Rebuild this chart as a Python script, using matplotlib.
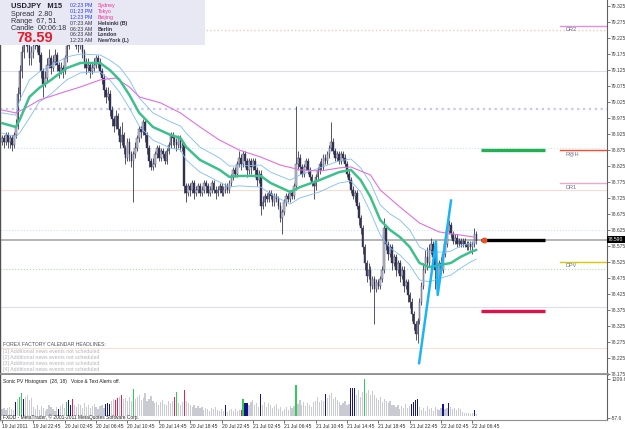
import matplotlib
matplotlib.use("Agg")
import matplotlib.pyplot as plt
import matplotlib.transforms as mtransforms
from matplotlib.patches import Rectangle

W, H = 625, 429
plt.rcParams['font.family'] = ['Liberation Sans', 'DejaVu Sans']
NARROW = ['Liberation Sans Narrow', 'Liberation Sans', 'DejaVu Sans']

# ---- candles (M15, bar 0 = 19 Jul 18:45) ----
first_open = 78.90
closes = [
    78.91, 78.90, 78.92, 78.90, 78.91, 78.89, 78.92, 78.95, 79.05, 79.12,
    79.18, 79.22, 79.24, 79.20, 79.16, 79.18, 79.20, 79.22, 79.20, 79.17,
    79.12, 79.08, 79.10, 79.14, 79.16, 79.13, 79.15, 79.17, 79.14, 79.12,
    79.13, 79.12, 79.16, 79.20, 79.24, 79.25, 79.23, 79.22, 79.21, 79.20,
    79.21, 79.18, 79.15, 79.13, 79.14, 79.12, 79.13, 79.14, 79.16, 79.15,
    79.12, 79.10, 79.06, 79.04, 79.05, 79.00, 78.97, 78.95, 78.98, 78.94,
    78.90, 78.92, 78.88, 78.85, 78.90, 78.86, 78.84, 78.86, 78.88, 78.91,
    78.94, 78.93, 78.96, 78.92, 78.88, 78.84, 78.82, 78.83, 78.86, 78.88,
    78.85, 78.87, 78.86, 78.84, 78.87, 78.89, 78.92, 78.91, 78.90, 78.89,
    78.91, 78.88, 78.89, 78.76, 78.74, 78.76, 78.75, 78.77, 78.74, 78.75,
    78.76, 78.74, 78.75, 78.77, 78.76, 78.74, 78.75, 78.77, 78.75, 78.74,
    78.75, 78.76, 78.74, 78.75, 78.76, 78.75, 78.77, 78.79, 78.81, 78.80,
    78.83, 78.85, 78.83, 78.86, 78.84, 78.81, 78.84, 78.82, 78.84, 78.81,
    78.78, 78.80, 78.70, 78.71, 78.73, 78.72, 78.74, 78.73, 78.71, 78.73,
    78.72, 78.70, 78.66, 78.68, 78.71, 78.73, 78.72, 78.74, 78.73, 78.76,
    78.83, 78.85, 78.82, 78.80, 78.82, 78.84, 78.81, 78.79, 78.77, 78.76,
    78.79, 78.81, 78.83, 78.82, 78.85, 78.84, 78.86, 78.88, 78.90, 78.87,
    78.85, 78.86, 78.84, 78.86, 78.85, 78.83, 78.80, 78.78, 78.75, 78.73,
    78.74, 78.70, 78.66, 78.63, 78.57, 78.52, 78.48, 78.50, 78.45, 78.47,
    78.44, 78.46, 78.45, 78.47, 78.50, 78.63, 78.58, 78.55, 78.57, 78.52,
    78.54, 78.50, 78.52, 78.48, 78.50, 78.45, 78.46, 78.42, 78.40, 78.36,
    78.33, 78.30, 78.34, 78.40, 78.45, 78.50, 78.54, 78.52, 78.56, 78.58,
    78.54, 78.50, 78.47, 78.52, 78.50, 78.55, 78.58, 78.62, 78.64, 78.61,
    78.59, 78.60, 78.58, 78.59, 78.58, 78.59, 78.58, 78.57, 78.58, 78.57,
    78.58, 78.61, 78.59]
highs = [
    78.92, 78.92, 78.93, 78.93, 78.92, 78.92, 78.93, 78.97, 79.07, 79.14,
    79.20, 79.24, 79.27, 79.26, 79.22, 79.20, 79.22, 79.25, 79.23, 79.21,
    79.18, 79.13, 79.12, 79.16, 79.19, 79.17, 79.17, 79.19, 79.18, 79.15,
    79.15, 79.14, 79.17, 79.22, 79.26, 79.28, 79.26, 79.25, 79.23, 79.22,
    79.23, 79.22, 79.19, 79.16, 79.16, 79.15, 79.15, 79.16, 79.17, 79.17,
    79.16, 79.13, 79.11, 79.07, 79.07, 79.06, 79.01, 78.98, 79.00, 78.99,
    78.95, 78.96, 78.93, 78.89, 78.91, 78.91, 78.87, 78.87, 78.90, 78.92,
    78.95, 78.95, 78.97, 78.97, 78.93, 78.89, 78.85, 78.85, 78.87, 78.89,
    78.89, 78.88, 78.88, 78.87, 78.88, 78.90, 78.93, 78.93, 78.92, 78.91,
    78.92, 78.92, 78.90, 78.90, 78.77, 78.77, 78.77, 78.78, 78.78, 78.76,
    78.77, 78.77, 78.76, 78.78, 78.78, 78.77, 78.76, 78.78, 78.78, 78.76,
    78.76, 78.77, 78.77, 78.76, 78.77, 78.77, 78.78, 78.80, 78.82, 78.82,
    78.84, 78.87, 78.86, 78.87, 78.87, 78.85, 78.85, 78.85, 78.85, 78.85,
    78.82, 78.81, 78.81, 78.73, 78.74, 78.74, 78.75, 78.75, 78.74, 78.74,
    78.74, 78.73, 78.71, 78.69, 78.72, 78.74, 78.74, 78.75, 78.75, 78.77,
    79.01, 78.87, 78.86, 78.83, 78.83, 78.85, 78.85, 78.82, 78.80, 78.78,
    78.80, 78.82, 78.84, 78.85, 78.86, 78.86, 78.87, 78.89, 78.96, 78.91,
    78.88, 78.87, 78.87, 78.87, 78.87, 78.86, 78.84, 78.81, 78.79, 78.76,
    78.75, 78.75, 78.71, 78.67, 78.64, 78.58, 78.53, 78.52, 78.51, 78.48,
    78.48, 78.47, 78.47, 78.48, 78.51, 78.66, 78.64, 78.59, 78.58, 78.58,
    78.55, 78.55, 78.53, 78.53, 78.51, 78.51, 78.47, 78.47, 78.43, 78.41,
    78.37, 78.34, 78.35, 78.41, 78.46, 78.52, 78.56, 78.57, 78.58, 78.60,
    78.59, 78.55, 78.51, 78.53, 78.54, 78.56, 78.60, 78.64, 78.655, 78.65,
    78.62, 78.61, 78.61, 78.60, 78.60, 78.60, 78.60, 78.59, 78.59, 78.59,
    78.59, 78.63, 78.62]
lows = [
    78.89, 78.88, 78.89, 78.88, 78.88, 78.87, 78.88, 78.91, 78.94, 79.03,
    79.10, 79.16, 79.20, 79.18, 79.14, 79.14, 79.16, 79.19, 79.18, 79.15,
    79.10, 79.04, 79.07, 79.09, 79.13, 79.11, 79.12, 79.14, 79.12, 79.10,
    79.11, 79.10, 79.11, 79.15, 79.19, 79.22, 79.21, 79.20, 79.19, 79.18,
    79.19, 79.16, 79.13, 79.11, 79.12, 79.10, 79.11, 79.12, 79.13, 79.13,
    79.11, 79.08, 79.04, 79.02, 79.03, 78.98, 78.95, 78.93, 78.94, 78.92,
    78.88, 78.89, 78.86, 78.83, 78.84, 78.84, 78.82, 78.71, 78.85, 78.87,
    78.90, 78.91, 78.92, 78.90, 78.86, 78.82, 78.81, 78.81, 78.82, 78.85,
    78.84, 78.84, 78.85, 78.83, 78.83, 78.86, 78.88, 78.89, 78.88, 78.87,
    78.88, 78.87, 78.87, 78.74, 78.71, 78.73, 78.73, 78.74, 78.72, 78.73,
    78.74, 78.73, 78.73, 78.74, 78.74, 78.73, 78.73, 78.74, 78.74, 78.72,
    78.73, 78.74, 78.73, 78.73, 78.74, 78.74, 78.74, 78.76, 78.78, 78.79,
    78.79, 78.82, 78.81, 78.82, 78.82, 78.79, 78.80, 78.80, 78.81, 78.79,
    78.76, 78.77, 78.67, 78.69, 78.70, 78.71, 78.71, 78.72, 78.70, 78.70,
    78.71, 78.69, 78.65, 78.61, 78.67, 78.70, 78.71, 78.71, 78.72, 78.72,
    78.75, 78.81, 78.80, 78.79, 78.79, 78.81, 78.80, 78.78, 78.76, 78.72,
    78.75, 78.78, 78.80, 78.81, 78.81, 78.83, 78.83, 78.85, 78.87, 78.86,
    78.84, 78.84, 78.83, 78.83, 78.84, 78.82, 78.79, 78.77, 78.74, 78.72,
    78.71, 78.69, 78.64, 78.61, 78.55, 78.50, 78.46, 78.47, 78.43, 78.44,
    78.33, 78.43, 78.44, 78.44, 78.46, 78.49, 78.56, 78.53, 78.54, 78.50,
    78.51, 78.48, 78.49, 78.46, 78.47, 78.43, 78.44, 78.40, 78.38, 78.34,
    78.31, 78.28, 78.27, 78.33, 78.39, 78.44, 78.49, 78.50, 78.51, 78.55,
    78.52, 78.44, 78.45, 78.46, 78.49, 78.49, 78.54, 78.57, 78.61, 78.60,
    78.58, 78.58, 78.57, 78.57, 78.57, 78.57, 78.57, 78.56, 78.56, 78.56,
    78.55, 78.57, 78.58]

# ---- moving averages / envelope ----
ma_bar = [0, 7, 9, 14, 19, 25, 33, 40, 50, 55, 60, 65, 70, 77, 86, 91, 94, 101,
          111, 116, 121, 132, 137, 147, 152, 162, 172, 178, 183, 188, 193, 198,
          203, 208, 213, 218, 224, 229, 234, 239, 242]
ma_fast = [78.958, 78.946, 78.968, 79.040, 79.068, 79.093, 79.130, 79.146, 79.146,
           79.124, 79.093, 79.046, 78.990, 78.946, 78.921, 78.912, 78.883, 78.843,
           78.812, 78.790, 78.793, 78.793, 78.771, 78.743, 78.758, 78.780, 78.805,
           78.812, 78.780, 78.727, 78.655, 78.624, 78.602, 78.571, 78.521, 78.508,
           78.515, 78.521, 78.540, 78.555, 78.562]
band_up = [78.990, 78.983, 79.030, 79.093, 79.118, 79.137, 79.165, 79.174, 79.171,
           79.155, 79.133, 79.093, 79.037, 78.990, 78.962, 78.949, 78.927, 78.883,
           78.849, 78.824, 78.824, 78.827, 78.805, 78.780, 78.796, 78.818, 78.840,
           78.846, 78.818, 78.771, 78.702, 78.674, 78.655, 78.624, 78.571, 78.555,
           78.555, 78.558, 78.574, 78.583, 78.587]
band_dn = [78.927, 78.915, 78.927, 78.974, 79.024, 79.049, 79.093, 79.115, 79.118,
           79.093, 79.055, 79.005, 78.949, 78.905, 78.880, 78.874, 78.843, 78.805,
           78.774, 78.758, 78.762, 78.758, 78.737, 78.705, 78.724, 78.743, 78.771,
           78.777, 78.743, 78.680, 78.608, 78.568, 78.546, 78.515, 78.468, 78.462,
           78.474, 78.483, 78.505, 78.524, 78.533]
slow_bar = [0, 7, 12, 19, 30, 40, 50, 58, 65, 70, 81, 91, 101, 111, 121, 132, 142,
            152, 162, 172, 178, 188, 193, 203, 213, 223, 234, 241]
ma_slow = [78.999, 78.990, 79.005, 79.030, 79.052, 79.071, 79.093, 79.099, 79.071,
           79.040, 79.021, 78.990, 78.946, 78.905, 78.874, 78.852, 78.827, 78.812,
           78.808, 78.818, 78.821, 78.796, 78.749, 78.696, 78.646, 78.618, 78.608,
           78.602]

# zigzag
zz_bar = [212.8, 221.4, 222.3, 229.1]
zz_price = [78.208, 78.588, 78.421, 78.716]

# pivot levels (label, price, colour)
level_names = ["DR2", "R@H", "DR1", "DPV"]
level_prices = [79.261, 78.874, 78.770, 78.524]
level_colors = ["#e090e0", "#ff4a2a", "#f0a8c8", "#d8c800"]

# faint full-width lines
bg_prices = [79.249, 79.121, 79.002, 78.880, 78.749, 78.624, 78.502, 78.383, 78.255]
bg_colors = ["#f4c8b8", "#dcdcf4", "#c8c8ee", "#c8e4f4", "#f8dcd4", "#c8e4f4",
             "#a8e0a8", "#dcdcf8", "#f8e0d8"]
bg_styles = [":", "-", ":", ":", "-", ":", ":", "-", "-"]
bg_widths = [1.0, 0.8, 1.6, 0.8, 0.8, 0.8, 0.8, 0.8, 0.8]

# projected marks to the right
proj_prices = [78.874, 78.593, 78.370]
proj_colors = ["#22b050", "#000000", "#e0104a"]

bid = 78.593

# ---- volume histogram ----
volumes = [
    230, 280, 200, 260, 300, 240, 210, 465, 560, 630,
    740, 575, 620, 680, 540, 600, 300, 250, 350, 200,
    330, 280, 160, 240, 360, 300, 220, 180, 300, 250,
    320, 400, 280, 465, 520, 360, 550, 380, 300, 410,
    350, 280, 420, 300, 380, 260, 340, 400, 300, 250,
    330, 380, 280, 410, 420, 410, 480, 560, 520, 600,
    640, 680, 550, 600, 500, 620, 480, 900, 560, 620,
    700, 520, 600, 740, 480, 560, 650, 500, 420, 460,
    380, 450, 520, 400, 360, 480, 420, 500, 630, 790,
    420, 380, 450, 845, 500, 420, 380, 300, 350, 280,
    320, 260, 300, 200, 280, 240, 180, 260, 220, 300,
    200, 160, 250, 180, 360, 140, 200, 220, 160, 240,
    180, 200, 215, 575, 445, 445, 380, 460, 520, 350,
    420, 300, 715, 380, 450, 300, 420, 360, 280, 330,
    400, 250, 300, 180, 240, 300, 200, 340, 260, 320,
    1000, 400, 520, 380, 460, 320, 420, 360, 300, 450,
    500, 620, 450, 540, 480, 735, 600, 680, 740, 560,
    620, 520, 460, 380, 420, 500, 360, 400, 920, 930,
    910, 700, 850, 640, 780, 1220, 760, 850, 700, 820,
    680, 600, 520, 620, 450, 560, 480, 420, 500, 380,
    350, 300, 380, 250, 320, 280, 400, 260, 320, 410,
    465, 520, 575, 300, 200, 280, 160, 340, 220, 260,
    180, 300, 240, 200, 280, 410, 240, 260, 430, 300,
    220, 260, 200, 280, 240, 130, 100, 90, 120, 80,
    110, 215, 70]
vol_blue = [7, 11, 29, 34, 35, 53, 54, 55, 114, 124, 125, 132, 165, 178, 179, 180,
            209, 210, 211, 212, 225, 228, 241]
vol_green = [9, 10, 33, 67, 89, 123, 150, 185]
vol_red = [36, 58, 59, 61, 88, 93, 122]

time_labels = ["19 Jul 2011", "19 Jul 22:45", "20 Jul 02:45", "20 Jul 06:45",
               "20 Jul 10:45", "20 Jul 14:45", "20 Jul 18:45", "20 Jul 22:45",
               "21 Jul 02:45", "21 Jul 06:45", "21 Jul 10:45", "21 Jul 14:45",
               "21 Jul 18:45", "21 Jul 22:45", "22 Jul 02:45", "22 Jul 06:45"]
label_step = 16

price_ticks = [78.175 + 0.05 * k for k in range(24)]


def fx(x):
    return x / W


def fy(y):
    return 1 - y / H


fig = plt.figure(figsize=(W / 100, H / 100), dpi=100)
fig.patch.set_facecolor("white")

XL = (-1.02, 308.67)
ax = fig.add_axes([0, fy(374), fx(607), 374 / H])
ax.set_xlim(*XL)
ax.set_ylim(78.174, 79.3428)
axv = fig.add_axes([0, fy(420), fx(607), 45 / H])
axv.set_xlim(*XL)
axv.set_ylim(-122.6, 1339.6)

for a in (ax, axv):
    a.set_facecolor("white")
    a.spines["top"].set_visible(False)
    a.spines["left"].set_color("#505050")
    a.spines["left"].set_linewidth(1.0)
    a.spines["right"].set_color("#606060")
    a.spines["right"].set_linewidth(0.8)
    a.spines["bottom"].set_color("#909090")
ax.spines["bottom"].set_linewidth(2)
axv.spines["bottom"].set_linewidth(0.8)

# background lines
for p, c, ls, lw in zip(bg_prices, bg_colors, bg_styles, bg_widths):
    ax.axhline(p, color=c, ls=ls, lw=lw, zorder=1)
ax.axhline(bid, color="#a8a8a8", lw=1.2, zorder=1)

# levels with labels at the right edge
tr = mtransforms.blended_transform_factory(ax.transAxes, ax.transData)
for name, p, c in zip(level_names, level_prices, level_colors):
    ax.plot([560 / 607, 1.0], [p, p], color=c, lw=1.0, transform=tr, zorder=2)
    ax.text(565 / 607, p - 0.004, name, transform=tr, fontsize=4,
            color="#6a6a90", va="top", ha="left")
for p, c in zip(proj_prices, proj_colors):
    ax.plot([481 / 607, 545 / 607], [p, p], color=c, lw=2.4, transform=tr,
            zorder=3, solid_capstyle="butt")
ax.plot([484 / 607], [bid], marker="o", ms=3.2, color="#f05020", transform=tr, zorder=6)

# candles
opens = [first_open] + closes[:-1]
xs = list(range(len(closes)))
ax.vlines(xs, lows, highs, color="#383858", lw=0.6, zorder=3)
for i, (o, c) in enumerate(zip(opens, closes)):
    bot = min(o, c)
    hgt = max(abs(c - o), 0.002)
    col = "#c4c4d0" if c >= o else "#30304e"
    ax.add_patch(Rectangle((i - 0.4, bot), 0.8, hgt, facecolor=col,
                           edgecolor="#383858", lw=0.3, zorder=4))

# moving averages
ax.plot(ma_bar, band_up, color="#7cbcf8", lw=0.6, zorder=5)
ax.plot(ma_bar, band_dn, color="#7cbcf8", lw=0.6, zorder=5)
ax.plot(slow_bar, ma_slow, color="#e070e0", lw=0.8, zorder=5)
ax.plot(ma_bar, ma_fast, color="#3cc08c", lw=1.8, zorder=5, solid_capstyle="round")
ax.plot(zz_bar, zz_price, color="#1cb4f4", lw=1.8, zorder=7)

# right price axis
ax.yaxis.tick_right()
ax.set_yticks(price_ticks)
ax.set_yticklabels([f"{t:.3f}" for t in price_ticks], family=NARROW)
ax.tick_params(axis="y", labelsize=3.6, colors="#404040", length=2, width=0.5, pad=1)
ax.set_xticks([])

# bid tag
fig.patches.append(Rectangle((fx(607), fy(243)), fx(18), 7 / H, transform=fig.transFigure,
                             facecolor="black", edgecolor="none", zorder=10))
fig.text(fx(608), fy(239.5), f"{78.590:.3f}", fontsize=3.6, color="white",
         va="center", ha="left", zorder=11, family=NARROW)

# volume histogram
vcolors = []
for i in range(len(volumes)):
    if i in vol_blue:
        vcolors.append("#14148a")
    elif i in vol_green:
        vcolors.append("#30cc5a")
    elif i in vol_red:
        vcolors.append("#e82050")
    else:
        vcolors.append("#cacad2")
axv.bar(range(len(volumes)), volumes, width=0.62, color=vcolors, zorder=2)
axv.yaxis.tick_right()
axv.set_yticks([1209.6, -57.6])
axv.set_yticklabels(["1209.6", "-57.6"], family=NARROW)
axv.tick_params(axis="y", labelsize=3.6, colors="#404040", length=2, width=0.5, pad=1)
tick_pos = [k * label_step for k in range(len(time_labels))]
axv.set_xticks(tick_pos)
axv.set_xticklabels(time_labels, ha="left")
axv.tick_params(axis="x", labelsize=3.6, colors="#303030", length=2, width=0.5, pad=1)

axv.text(fx(3) / fx(607), 0.86, "Sonic PV Histogram  (28, 18)   Voice & Text Alerts off.",
         transform=axv.transAxes, fontsize=3.5, color="#202020", va="center")
axv.text(fx(3) / fx(607), 0.07, "FXDD - MetaTrader, \u00a9 2001-2011 MetaQuotes Software Corp.",
         transform=axv.transAxes, fontsize=3.5, color="#202020", va="center", zorder=5)

# news block
fig.text(fx(3), fy(345), "FOREX FACTORY CALENDAR HEADLINES:", fontsize=3.7,
         color="#505060", va="center")
for k, y in enumerate([352, 358, 364, 369.5]):
    fig.text(fx(3), fy(y), f"[{k + 1}] Additional news events not scheduled",
             fontsize=3.8, color="#b4b4bc", va="center")

# info box
fig.patches.append(Rectangle((0, fy(45)), fx(205), 45 / H, transform=fig.transFigure,
                             facecolor="#e8e8f4", edgecolor="none", zorder=8))
fig.text(fx(11), fy(6), "USDJPY   M15", fontsize=5.4, weight="bold", color="#202030",
         va="center", zorder=9)
for txt, y in [("Spread  2.80", 14.3), ("Range  67, 51", 21.2), ("Candle  00:06:18", 28.2)]:
    fig.text(fx(11), fy(y), txt, fontsize=5.2, color="#303040", va="center", zorder=9)
fig.text(fx(16), fy(38.5), "78.59", fontsize=10.5, weight="bold", color="#e41c2c",
         va="center", zorder=9)
zone_times = ["02:23 PM", "01:23 PM", "12:23 PM", "07:23 AM", "06:23 AM", "06:23 AM", "12:23 AM"]
zone_names = ["Sydney", "Tokyo", "Beijing", "Helsinki (B)", "Berlin", "London", "NewYork (L)"]
zone_rows = [5.7, 11.6, 17.4, 23.3, 29.1, 35, 40.8]
for k, (t, n, y) in enumerate(zip(zone_times, zone_names, zone_rows)):
    tc = "#2a3ce8" if k < 3 else "#303040"
    nc = "#f0309a" if k < 3 else "#303040"
    fig.text(fx(70), fy(y), t, fontsize=3.8, color=tc, va="center", zorder=9)
    fig.text(fx(98), fy(y), n, fontsize=3.8, color=nc, va="center", zorder=9,
             weight="bold" if k >= 3 else "normal")

fig.savefig("out.png", dpi=100, facecolor="white")
